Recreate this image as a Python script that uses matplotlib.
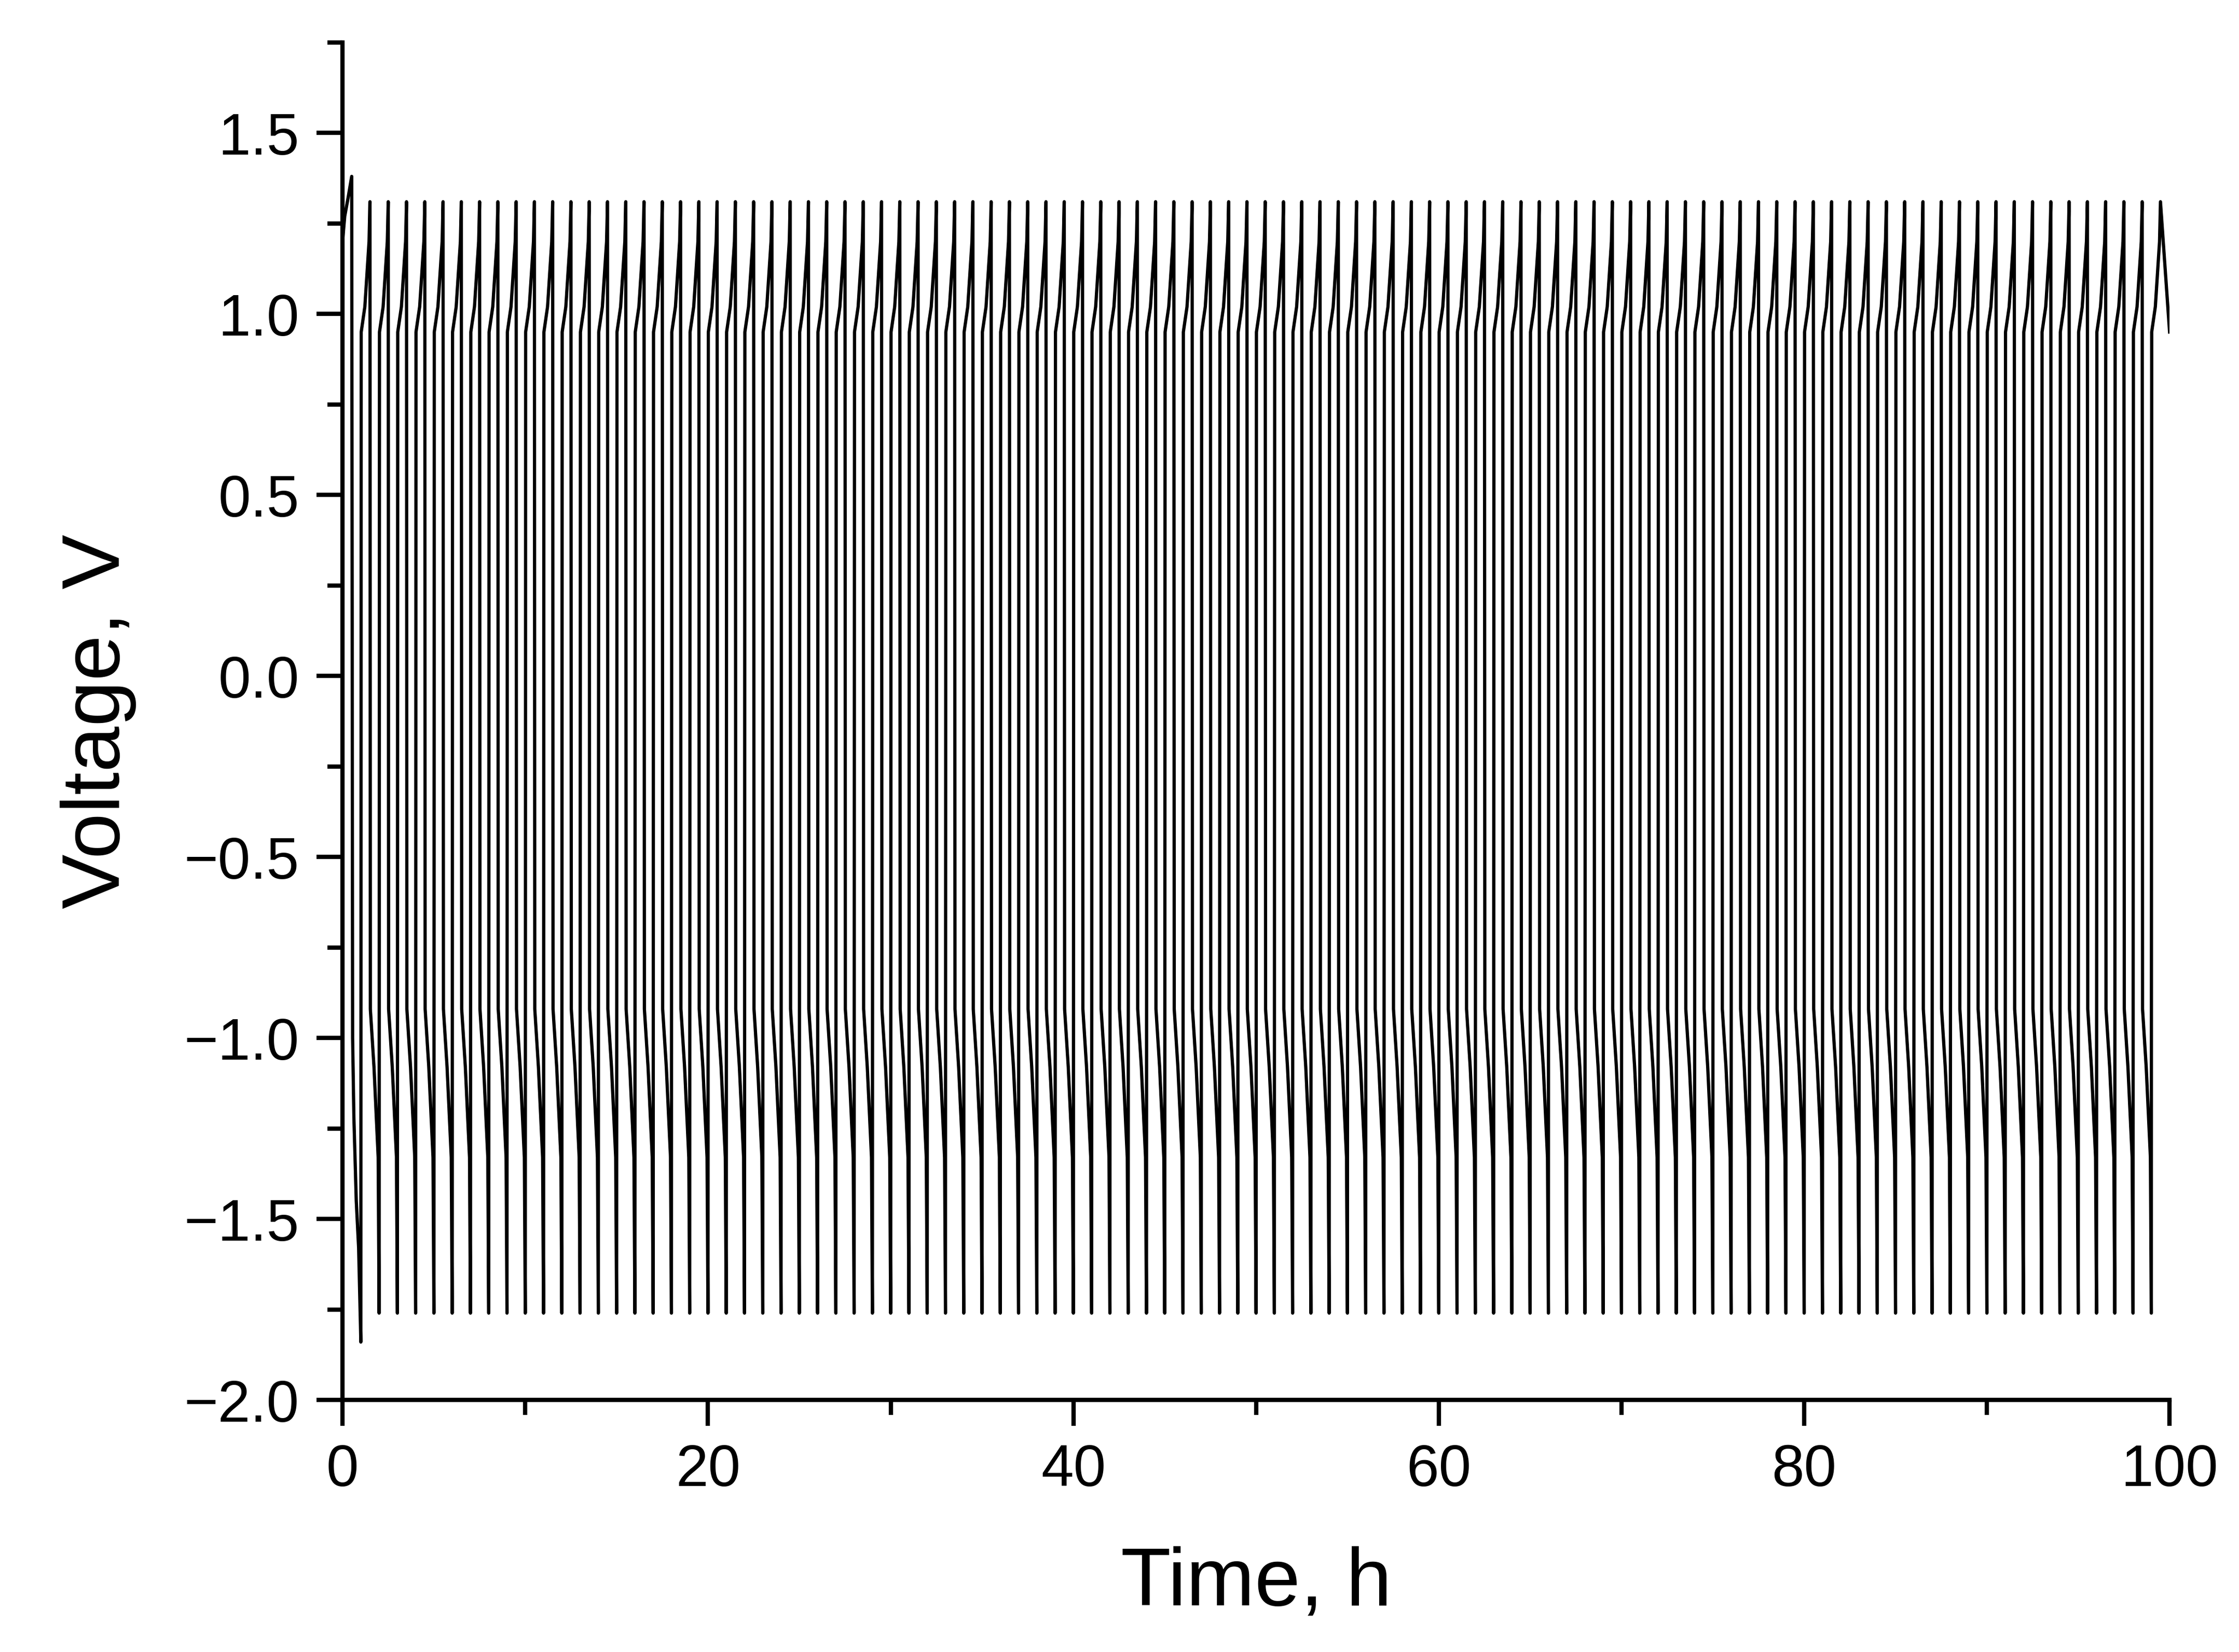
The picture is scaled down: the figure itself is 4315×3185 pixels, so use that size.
import numpy as np
import matplotlib; matplotlib.use("Agg"); import matplotlib.pyplot as plt
from matplotlib.ticker import MultipleLocator

# one galvanostatic cycle (1 h): fraction of cycle vs voltage
cyc_t = [0.00, 0.02, 0.22, 0.45, 0.50, 0.52, 0.72, 0.95, 1.00]
cyc_v = [-1.76, 0.95, 1.02, 1.20, 1.31, -0.92, -1.08, -1.33, -1.76]
# first (formation) cycle
first_t = [0.00, 0.12, 0.30, 0.50, 0.55, 0.62, 0.75, 0.88, 1.00]
first_v = [1.20, 1.27, 1.32, 1.38, -1.00, -1.22, -1.45, -1.58, -1.84]
n_cycles = 100
end_t = [99.00, 99.02, 99.22, 99.45, 99.50, 100.0]
end_v = [-1.76, 0.95, 1.02, 1.20, 1.31, 0.95]

t = list(first_t); v = list(first_v)
for k in range(1, n_cycles - 1):
    t += [k + c for c in cyc_t[1:]]; v += cyc_v[1:]
t += end_t[1:]; v += end_v[1:]

plt.rcParams['font.family'] = ['Liberation Sans', 'DejaVu Sans']
fig = plt.figure(figsize=(4315/300, 3186/300), dpi=300)
ax = fig.add_axes([0.153, 0.1525, 0.816, 0.8215])
ax.plot(t, v, color="black", lw=1.5)
ax.set_xlim(0, 100); ax.set_ylim(-2.0, 1.75)
ax.xaxis.set_major_locator(MultipleLocator(20)); ax.xaxis.set_minor_locator(MultipleLocator(10))
ax.yaxis.set_major_locator(MultipleLocator(0.5)); ax.yaxis.set_minor_locator(MultipleLocator(0.25))
ax.set_yticks([-2.0, -1.5, -1.0, -0.5, 0.0, 0.5, 1.0, 1.5])
ax.set_yticklabels(["\u22122.0", "\u22121.5", "\u22121.0", "\u22120.5", "0.0", "0.5", "1.0", "1.5"])
for s in ["top", "right"]: ax.spines[s].set_visible(False)
for s in ["left", "bottom"]: ax.spines[s].set_linewidth(2)
ax.tick_params(which="major", direction="out", length=12, width=2, labelsize=27, pad=8)
ax.tick_params(which="minor", direction="out", length=7, width=2)
ax.set_xlabel("Time, h", fontsize=38, labelpad=22)
ax.set_ylabel("Voltage, V", fontsize=38, labelpad=22)
fig.savefig("out.png", dpi=300)
